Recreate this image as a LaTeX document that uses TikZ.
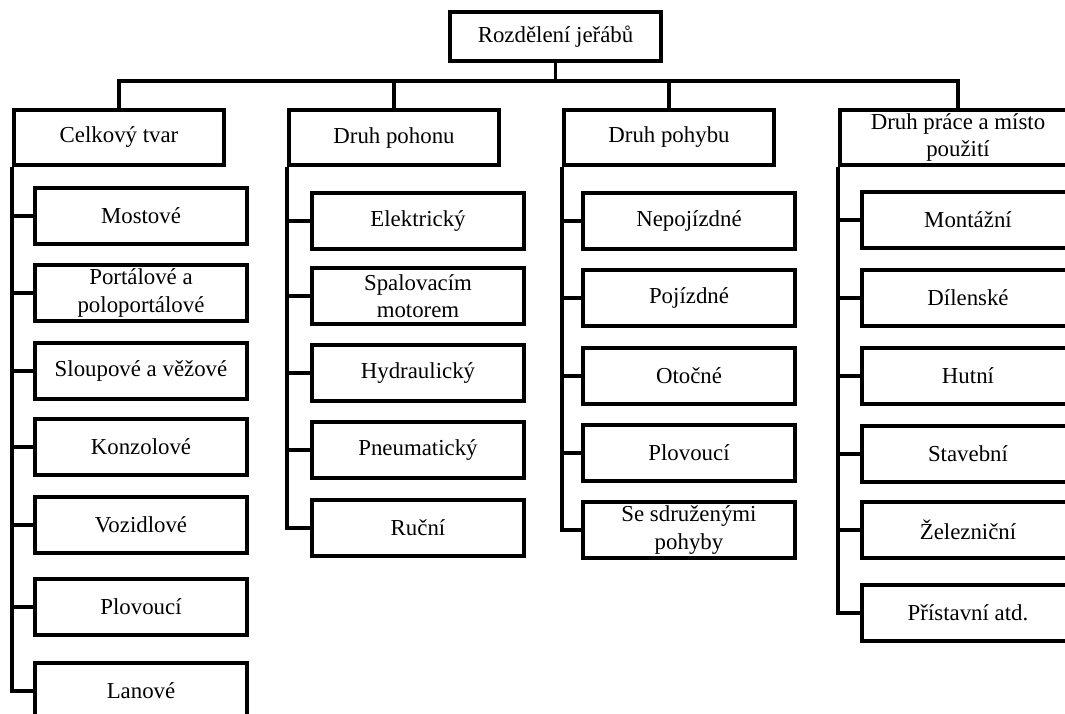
\documentclass[tikz,border=0pt]{standalone}
\usepackage{fontspec}
\setmainfont{Liberation Serif}
\usepackage{tikz}
\tikzset{font=\fontsize{19.5}{23.5}\selectfont,
  koren/.style={rectangle,draw,line width=3.3pt,inner sep=0pt,minimum width=63.3mm,minimum height=14.7mm,align=center},
  kat/.style={rectangle,draw,line width=3.3pt,inner sep=0pt,minimum width=63mm,minimum height=16.5mm,align=center},
  polozka/.style={rectangle,draw,line width=3.3pt,inner sep=0pt,minimum width=63.6mm,minimum height=16.8mm,align=center},
  spoj/.style={line width=3.3pt}}

\begin{document}
\begin{tikzpicture}[x=0.3mm,y=-0.3mm]
\useasboundingbox (0,0) rectangle (1065,713);
\clip (0,0) rectangle (1065,713);
%\draw[help lines,step=50] (0,0) grid (1065,713);
\path (555.5,36.5) node(rozdeleni) [koren] {Rozdělení jeřábů}
(119,137.5) node(celkovy_tvar) [kat] {Celkový tvar}
(394,137.5) node(druh_pohonu) [kat] {Druh pohonu}
(669,137.5) node(druh_pohybu) [kat] {Druh pohybu}
(958,137.5) node(druh_prace) [kat,minimum width=70.8mm] {Druh práce a místo\\použití};

% celkovy tvar
\path (141,216) node(mostove) [polozka] {Mostové}
(141,293) node(portalove) [polozka] {Portálové a\\poloportálové}
(141,371) node(sloupove) [polozka] {Sloupové a věžové}
(141,447) node(konzolove) [polozka] {Konzolové}
(141,525) node(vozidlove) [polozka] {Vozidlové}
(141,607) node(plovouci_tvar) [polozka] {Plovoucí}
(141,691) node(lanove) [polozka] {Lanové};

% druh pohonu
\path (418,221) node(elektricky) [polozka] {Elektrický}
(418,296) node(spalovacim) [polozka] {Spalovacím\\motorem}
(418,373) node(hydraulicky) [polozka] {Hydraulický}
(418,450) node(pneumaticky) [polozka] {Pneumatický}
(418,528) node(rucni) [polozka] {Ruční};

% druh pohybu
\path (689,221) node(nepojizdne) [polozka] {Nepojízdné}
(689,298) node(pojizdne) [polozka] {Pojízdné}
(689,376) node(otocne) [polozka] {Otočné}
(689,453) node(plovouci_pohyb) [polozka] {Plovoucí}
(689,530) node(sdruzene) [polozka] {Se sdruženými\\pohyby};

% druh prace
\path (968,220) node(montazni) [polozka] {Montážní}
(968,298) node(dilenske) [polozka] {Dílenské}
(968,376) node(hutni) [polozka] {Hutní}
(968,454) node(stavebni) [polozka] {Stavební}
(968,530) node(zeleznicni) [polozka] {Železniční}
(968,613) node(pristavni) [polozka] {Přístavní atd.};

\coordinate (sbernice) at (0,81);
\draw[spoj] (rozdeleni.south) -- (rozdeleni.south |- sbernice);
\draw[spoj] (celkovy_tvar.north) -- (celkovy_tvar.north |- sbernice) -- (druh_prace.north |- sbernice) -- (druh_prace.north);
\draw[spoj] (druh_pohonu.north) -- (druh_pohonu.north |- sbernice);
\draw[spoj] (druh_pohybu.north) -- (druh_pohybu.north |- sbernice);

\draw[spoj] (celkovy_tvar.south west) |- (lanove.west);
\draw[spoj] (celkovy_tvar.south west |- mostove.west) -- (mostove.west);
\draw[spoj] (celkovy_tvar.south west |- portalove.west) -- (portalove.west);
\draw[spoj] (celkovy_tvar.south west |- sloupove.west) -- (sloupove.west);
\draw[spoj] (celkovy_tvar.south west |- konzolove.west) -- (konzolove.west);
\draw[spoj] (celkovy_tvar.south west |- vozidlove.west) -- (vozidlove.west);
\draw[spoj] (celkovy_tvar.south west |- plovouci_tvar.west) -- (plovouci_tvar.west);

\draw[spoj] (druh_pohonu.south west) |- (rucni.west);
\draw[spoj] (druh_pohonu.south west |- elektricky.west) -- (elektricky.west);
\draw[spoj] (druh_pohonu.south west |- spalovacim.west) -- (spalovacim.west);
\draw[spoj] (druh_pohonu.south west |- hydraulicky.west) -- (hydraulicky.west);
\draw[spoj] (druh_pohonu.south west |- pneumaticky.west) -- (pneumaticky.west);

\draw[spoj] (druh_pohybu.south west) |- (sdruzene.west);
\draw[spoj] (druh_pohybu.south west |- nepojizdne.west) -- (nepojizdne.west);
\draw[spoj] (druh_pohybu.south west |- pojizdne.west) -- (pojizdne.west);
\draw[spoj] (druh_pohybu.south west |- otocne.west) -- (otocne.west);
\draw[spoj] (druh_pohybu.south west |- plovouci_pohyb.west) -- (plovouci_pohyb.west);

\draw[spoj] (druh_prace.south west) |- (pristavni.west);
\draw[spoj] (druh_prace.south west |- montazni.west) -- (montazni.west);
\draw[spoj] (druh_prace.south west |- dilenske.west) -- (dilenske.west);
\draw[spoj] (druh_prace.south west |- hutni.west) -- (hutni.west);
\draw[spoj] (druh_prace.south west |- stavebni.west) -- (stavebni.west);
\draw[spoj] (druh_prace.south west |- zeleznicni.west) -- (zeleznicni.west);
\end{tikzpicture}
\end{document}
